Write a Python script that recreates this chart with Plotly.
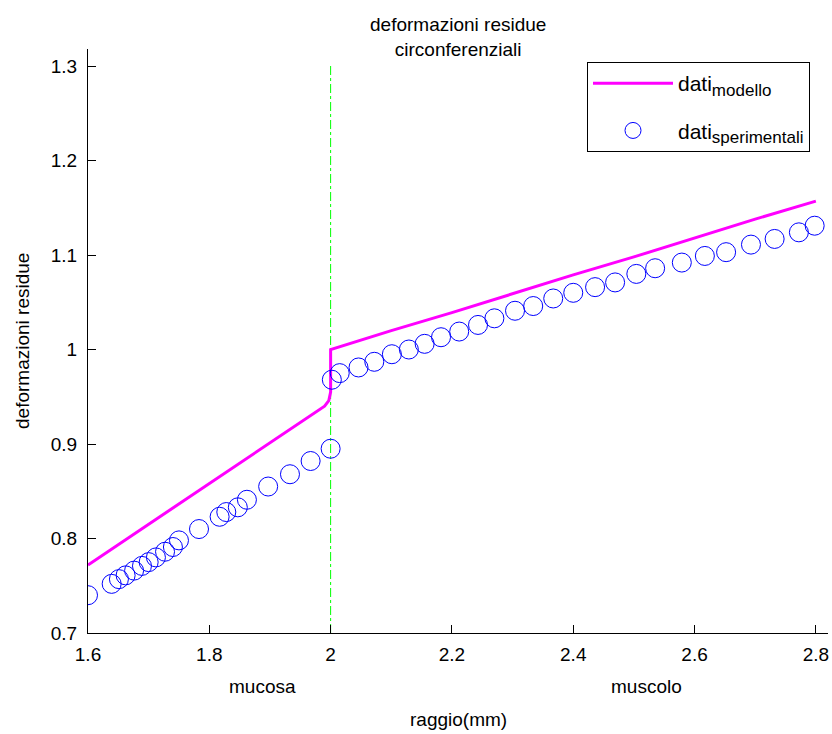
import plotly.graph_objects as go

# ---- data ----
model_x = [1.60, 1.70, 1.80, 1.90, 1.99, 1.997, 2.00, 2.00, 2.10, 2.20, 2.30, 2.40, 2.50, 2.60, 2.70, 2.80]
model_y = [0.772, 0.815, 0.858, 0.901, 0.940, 0.946, 0.955, 1.000, 1.020, 1.039, 1.059, 1.079, 1.098, 1.118, 1.138, 1.157]

exp_x = [1.600, 1.639, 1.651, 1.662, 1.676, 1.689, 1.700, 1.712, 1.727, 1.740, 1.750,
         1.783, 1.817, 1.828, 1.847, 1.862, 1.897, 1.933, 1.967, 2.000,
         2.002, 2.015, 2.046, 2.072, 2.101, 2.129, 2.155, 2.182, 2.212, 2.243,
         2.270, 2.304, 2.334, 2.367, 2.400, 2.436, 2.469, 2.504, 2.535, 2.579,
         2.617, 2.652, 2.693, 2.732, 2.772, 2.798]
exp_y = [0.740, 0.752, 0.757, 0.761, 0.766, 0.771, 0.775, 0.780, 0.786, 0.791, 0.798,
         0.810, 0.823, 0.828, 0.833, 0.841, 0.855, 0.868, 0.882, 0.895,
         0.968, 0.975, 0.981, 0.987, 0.995, 1.000, 1.006, 1.013, 1.019, 1.026,
         1.033, 1.041, 1.046, 1.054, 1.060, 1.066, 1.071, 1.080, 1.086, 1.092,
         1.099, 1.103, 1.111, 1.117, 1.124, 1.131]

boundary_x = [2.0, 2.0]
boundary_y = [0.7, 1.3]

x_ticks = [1.6, 1.8, 2.0, 2.2, 2.4, 2.6, 2.8]
x_tick_labels = ["1.6", "1.8", "2", "2.2", "2.4", "2.6", "2.8"]
y_ticks = [0.7, 0.8, 0.9, 1.0, 1.1, 1.2, 1.3]
y_tick_labels = ["0.7", "0.8", "0.9", "1", "1.1", "1.2", "1.3"]

region_labels = ["mucosa", "muscolo"]
region_x = [1.887, 2.52]

FONT = "Liberation Sans, Arial, sans-serif"
H = 734
plot_top, plot_bottom = 49, 633


def py_to_paper(py):
    return (plot_bottom - py) / (plot_bottom - plot_top)


fig = go.Figure()
fig.add_trace(go.Scatter(x=boundary_x, y=boundary_y, mode="lines",
                         line=dict(color="#00ff00", width=1, dash="dashdot"),
                         showlegend=False, hoverinfo="skip"))
fig.add_trace(go.Scatter(x=model_x, y=model_y, mode="lines", legendgroup="a",
                         name="dati<sub><span style='font-size:17px'>modello</span></sub>",
                         line=dict(color="#ff00ff", width=3)))
fig.add_trace(go.Scatter(x=exp_x, y=exp_y, mode="markers", legendgroup="b",
                         name="dati<sub><span style='font-size:17px'>sperimentali</span></sub>",
                         marker=dict(symbol="circle-open", size=19,
                                     color="#0000ff", line=dict(width=1, color="#0000ff"))))

for lab, xv in zip(region_labels, region_x):
    fig.add_annotation(x=xv, xref="x", y=py_to_paper(686), yref="paper", yanchor="middle",
                       text=lab, showarrow=False,
                       font=dict(family=FONT, size=19, color="black"))

fig.add_annotation(x=0.5, xref="paper", y=py_to_paper(719), yref="paper",
                   text="raggio(mm)", showarrow=False, yanchor="middle",
                   font=dict(family=FONT, size=19, color="black"))
fig.add_annotation(x=-66 / 740, xref="paper", y=0.5, yref="paper",
                   text="deformazioni residue", showarrow=False, textangle=-90,
                   xanchor="center", yanchor="middle",
                   font=dict(family=FONT, size=19, color="black"))
fig.add_annotation(x=0.5, xref="paper", y=py_to_paper(12), yref="paper",
                   text="deformazioni residue<br>circonferenziali", showarrow=False,
                   xanchor="center", yanchor="top", align="center",
                   font=dict(family=FONT, size=19, color="black"))

fig.update_layout(
    width=832, height=734,
    margin=dict(l=88, r=4, t=plot_top, b=H - plot_bottom, pad=0),
    paper_bgcolor="white", plot_bgcolor="white",
    font=dict(family=FONT, size=19, color="black"),
    showlegend=True,
    legend=dict(x=(587 - 88) / 740, y=py_to_paper(62), xanchor="left", yanchor="top",
                bgcolor="white", bordercolor="black", borderwidth=1,
                font=dict(family=FONT, size=21, color="black"),
                itemwidth=80, tracegroupgap=17),
    xaxis=dict(range=[1.6, 2.82], tickmode="array", tickvals=x_ticks, ticktext=x_tick_labels,
               ticks="inside", ticklen=8, tickcolor="black", showline=True, linecolor="black",
               linewidth=1, showgrid=False, zeroline=False, mirror=False,
               tickfont=dict(family=FONT, size=19, color="black"), ticklabelstandoff=4),
    yaxis=dict(range=[0.7, 1.318], tickmode="array", tickvals=y_ticks, ticktext=y_tick_labels,
               ticks="inside", ticklen=8, tickcolor="black", showline=True, linecolor="black",
               linewidth=1, showgrid=False, zeroline=False, mirror=False,
               tickfont=dict(family=FONT, size=19, color="black"), ticklabelstandoff=6),
)

fig.write_html("out.html")
